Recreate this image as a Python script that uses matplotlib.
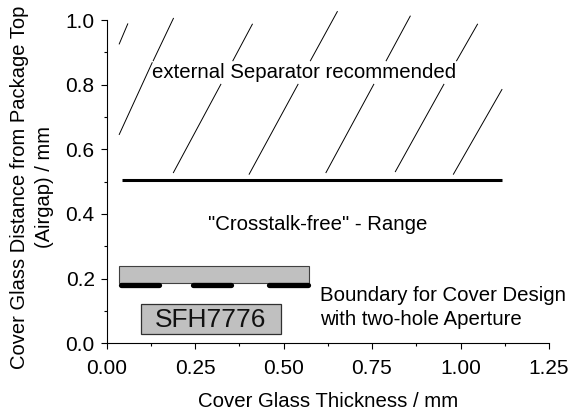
import matplotlib
matplotlib.use("Agg")
import matplotlib.pyplot as plt
from matplotlib.patches import Rectangle

plt.rcParams['font.family'] = ['Liberation Sans', 'DejaVu Sans']

# hatch lines above the 0.5 mm boundary, each one (x0, x1, y0, y1)
hatch_lines = [
    (0.036, 0.060, 0.926, 0.988),
    (0.036, 0.129, 0.646, 0.868),
    (0.132, 0.189, 0.874, 1.005),
    (0.189, 0.323, 0.528, 0.801),
    (0.357, 0.412, 0.874, 0.987),
    (0.403, 0.541, 0.523, 0.801),
    (0.576, 0.652, 0.874, 1.026),
    (0.620, 0.755, 0.528, 0.801),
    (0.790, 0.858, 0.874, 1.012),
    (0.816, 0.953, 0.531, 0.801),
    (0.989, 1.048, 0.874, 0.987),
    (0.980, 1.117, 0.523, 0.785),
]
boundary_x = [0.043, 1.117]
boundary_y = [0.504, 0.504]
aperture_segments = [(0.040, 0.148), (0.243, 0.352), (0.458, 0.570)]
aperture_y = 0.179
glass_box = (0.036, 0.187, 0.537, 0.051)
package_box = (0.097, 0.028, 0.396, 0.094)

x_ticks = [0.00, 0.25, 0.50, 0.75, 1.00, 1.25]
x_labels = ['0.00', '0.25', '0.50', '0.75', '1.00', '1.25']
y_ticks = [0.0, 0.2, 0.4, 0.6, 0.8, 1.0]
y_labels = ['0.0', '0.2', '0.4', '0.6', '0.8', '1.0']

fig = plt.figure(figsize=(5.71, 4.12), dpi=100)
ax = fig.add_axes([106.5 / 571, (412 - 343.3) / 412, 442.5 / 571, 323.3 / 412])

for x0, x1, y0, y1 in hatch_lines:
    ax.plot([x0, x1], [y0, y1], color='black', lw=0.7, clip_on=False)

ax.plot(boundary_x, boundary_y, color='black', lw=2.2, solid_capstyle='butt')

ax.add_patch(Rectangle(glass_box[:2], glass_box[2], glass_box[3],
                       facecolor='#c0c0c0', edgecolor='#404040', lw=0.8))
for x0, x1 in aperture_segments:
    ax.plot([x0, x1], [aperture_y, aperture_y], color='black', lw=3.8,
            solid_capstyle='round')
ax.add_patch(Rectangle(package_box[:2], package_box[2], package_box[3],
                       facecolor='#c0c0c0', edgecolor='#303030', lw=0.9))

ax.text(0.295, 0.073, 'SFH7776', fontsize=19, ha='center', va='center', color='#111111')
ax.text(0.559, 0.839, 'external Separator recommended', fontsize=14.7, ha='center', va='center')
ax.text(0.597, 0.366, '"Crosstalk-free" - Range', fontsize=14.7, ha='center', va='center')
ax.text(0.603, 0.149, 'Boundary for Cover Design', fontsize=14.7, ha='left', va='center')
ax.text(0.603, 0.075, 'with two-hole Aperture', fontsize=14.7, ha='left', va='center')

ax.set_xlim(0, 1.25)
ax.set_ylim(0, 1.0)
ax.set_xticks(x_ticks)
ax.set_xticklabels(x_labels)
ax.set_yticks(y_ticks)
ax.set_yticklabels(y_labels)
ax.set_xticks([0.125, 0.375, 0.625, 0.875, 1.125], minor=True)
ax.set_yticks([0.1, 0.3, 0.5, 0.7, 0.9], minor=True)
ax.tick_params(which='major', length=4.5, width=0.8, labelsize=15)
ax.tick_params(axis='x', which='major', pad=6.5)
ax.tick_params(axis='y', which='major', pad=4)
ax.tick_params(which='minor', length=2.5, width=0.8)
ax.spines['top'].set_visible(False)
ax.spines['right'].set_visible(False)
ax.set_xlabel('Cover Glass Thickness / mm', fontsize=14.7, labelpad=10.5)
ax.set_ylabel('Cover Glass Distance from Package Top\n(Airgap) / mm', fontsize=14.5,
              labelpad=8, y=0.482, linespacing=1.4)

fig.savefig('out.png', dpi=100)
